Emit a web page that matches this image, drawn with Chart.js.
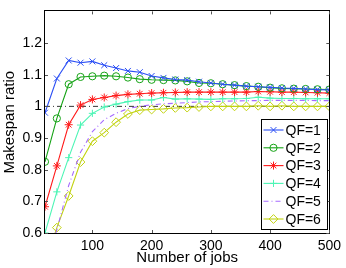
<!DOCTYPE html>
<html lang="en">
<head>
<meta charset="UTF-8">
<title>Makespan ratio vs number of jobs</title>
<style>
  html, body { margin: 0; padding: 0; background: #fff; }
  #wrap { width: 346px; height: 268px; }
</style>
<script src="https://cdn.jsdelivr.net/npm/chart.js"></script>
</head>
<body>
<div id="wrap"><canvas id="chart" width="346" height="268"></canvas></div>
<script>
// number of jobs (x) and makespan ratio per QF setting
const jobs = [20, 40, 60, 80, 100, 120, 140, 160, 180, 200, 220, 240, 260,
              280, 300, 320, 340, 360, 380, 400, 420, 440, 460, 480, 500];
const qf1 = [0.98, 1.088, 1.145, 1.138, 1.142, 1.13, 1.121, 1.112, 1.108, 1.096, 1.09, 1.085, 1.083,
             1.078, 1.074, 1.07, 1.067, 1.064, 1.062, 1.06, 1.058, 1.057, 1.055, 1.053, 1.052];
const qf2 = [0.825, 0.962, 1.07, 1.093, 1.095, 1.097, 1.095, 1.091, 1.086, 1.084, 1.083, 1.082, 1.079,
             1.074, 1.073, 1.07, 1.067, 1.064, 1.062, 1.059, 1.057, 1.056, 1.055, 1.054, 1.053];
const qf3 = [0.683, 0.812, 0.942, 1.004, 1.022, 1.028, 1.034, 1.038, 1.04, 1.042, 1.043, 1.044, 1.045,
             1.045, 1.045, 1.045, 1.045, 1.045, 1.047, 1.046, 1.045, 1.045, 1.044, 1.043, 1.042];
const qf4 = [0.6, 0.73, 0.838, 0.941, 0.978, 0.998, 1.007, 1.015, 1.02, 1.02, 1.028, 1.023, 1.024,
             1.023, 1.022, 1.024, 1.024, 1.025, 1.029, 1.026, 1.025, 1.025, 1.024, 1.024, 1.024];
const qf5 = [0.49, 0.61, 0.75, 0.855, 0.92, 0.958, 0.978, 0.993, 1.0, 1.005, 1.008, 1.01, 1.012,
             1.014, 1.015, 1.016, 1.017, 1.018, 1.018, 1.019, 1.019, 1.019, 1.019, 1.018, 1.018];
const qf6 = [0.5, 0.617, 0.717, 0.824, 0.89, 0.917, 0.95, 0.976, 0.988, 0.99, 0.992, 0.995, 0.996,
             0.998, 1.0, 1.0, 1.0, 1.0, 1.002, 1.0, 1.002, 1.0, 1.0, 1.0, 1.0];
const refLine = [1, 1];
const refJobs = [20, 500];

const seriesNames = ['QF=1', 'QF=2', 'QF=3', 'QF=4', 'QF=5', 'QF=6'];
const xTicks = [100, 200, 300, 400, 500];
const yTicks = [0.6, 0.7, 0.8, 0.9, 1, 1.1, 1.2];
const yTickLabels = ['0.6', '0.7', '0.8', '0.9', '1', '1.1', '1.2'];

const FONT = 'Liberation Sans, Arial, Helvetica, sans-serif';

const styles = [
  { color: '#2b4ff5', point: 'crossRot', radius: 4.2, dash: [] },
  { color: '#16a316', point: 'circle', radius: 3.6, dash: [] },
  { color: '#ff1a1a', point: 'star', radius: 4, dash: [] },
  { color: '#4df5b5', point: 'cross', radius: 3.6, dash: [] },
  { color: '#a66bff', point: false, radius: 0, dash: [5, 3, 1, 3] },
  { color: '#c2d312', point: 'rectRot', radius: 4.4, dash: [] }
];

const toXY = (xs, ys) => xs.map((x, i) => ({ x: x, y: ys[i] }));
const allSeries = [qf1, qf2, qf3, qf4, qf5, qf6];

const datasets = allSeries.map((s, i) => ({
  label: seriesNames[i],
  data: toXY(jobs, s),
  borderColor: styles[i].color,
  backgroundColor: 'rgba(0,0,0,0)',
  pointBorderColor: styles[i].color,
  pointBackgroundColor: 'rgba(0,0,0,0)',
  pointStyle: styles[i].point,
  pointRadius: styles[i].radius,
  pointBorderWidth: 1,
  borderWidth: 1.1,
  borderDash: styles[i].dash,
  tension: 0
}));

// black dash-dot reference line at ratio 1
datasets.unshift({
  label: 'ref',
  data: toXY(refJobs, refLine),
  borderColor: '#333',
  borderWidth: 1,
  borderDash: [5, 3, 1, 3],
  pointRadius: 0,
  order: 10
});

// box, inward ticks and legend (matlab look)
const framePlugin = {
  id: 'frame',
  afterDraw(chart) {
    const ctx = chart.ctx;
    const a = chart.chartArea;
    const xs = chart.scales.x, ys = chart.scales.y;
    const tl = 3;
    ctx.save();
    ctx.strokeStyle = '#000';
    ctx.lineWidth = 1;
    ctx.setLineDash([]);
    ctx.strokeRect(Math.round(a.left) - 0.5, Math.round(a.top) - 0.5,
                   Math.round(a.right - a.left) + 1, Math.round(a.bottom - a.top) + 1);
    ctx.strokeStyle = '#555';
    ctx.beginPath();
    xTicks.forEach(v => {
      const px = Math.round(xs.getPixelForValue(v)) + 0.5;
      ctx.moveTo(px, a.bottom); ctx.lineTo(px, a.bottom - tl);
      ctx.moveTo(px, a.top); ctx.lineTo(px, a.top + tl);
    });
    yTicks.forEach(v => {
      const py = Math.round(ys.getPixelForValue(v)) + 0.5;
      ctx.moveTo(a.left, py); ctx.lineTo(a.left + tl, py);
      ctx.moveTo(a.right, py); ctx.lineTo(a.right - tl, py);
    });
    ctx.stroke();

    // legend
    const lw = 66, lh = 110;
    const lx = Math.round(a.right) - 2 - lw + 0.5;
    const ly = Math.round(a.bottom) - 4 - lh + 0.5;
    ctx.fillStyle = '#fff';
    ctx.fillRect(lx, ly, lw, lh);
    ctx.strokeStyle = '#000';
    ctx.strokeRect(lx, ly, lw, lh);
    ctx.font = '14px ' + FONT;
    ctx.textBaseline = 'middle';
    ctx.textAlign = 'left';
    seriesNames.forEach((name, i) => {
      const st = styles[i];
      const cy = ly + 10.5 + i * 17.8;
      ctx.strokeStyle = st.color;
      ctx.lineWidth = 1.1;
      ctx.setLineDash(st.dash);
      ctx.beginPath();
      ctx.moveTo(lx + 2, cy); ctx.lineTo(lx + 22, cy);
      ctx.stroke();
      ctx.setLineDash([]);
      if (st.point) {
        ctx.lineWidth = 1;
        ctx.fillStyle = 'rgba(0,0,0,0)';
        Chart.helpers.drawPoint(ctx, { pointStyle: st.point, radius: st.radius, rotation: 0, borderWidth: 1 },
                                lx + 12, cy);
      }
      ctx.fillStyle = '#000';
      ctx.fillText(name, lx + 24, cy + 1);
    });
    ctx.restore();
  }
};

new Chart(document.getElementById('chart'), {
  type: 'line',
  data: { datasets: datasets },
  options: {
    responsive: false,
    animation: false,
    events: [],
    layout: { padding: { top: 11, right: 15, left: 0, bottom: 0 } },
    plugins: { legend: { display: false }, tooltip: { enabled: false } },
    scales: {
      x: {
        type: 'linear',
        min: 20,
        max: 500,
        afterBuildTicks: s => { s.ticks = xTicks.map(v => ({ value: v })); },
        afterFit: s => { s.height = 35; },
        grid: { display: false, drawTicks: false },
        border: { display: false },
        ticks: { padding: 5, color: '#000', font: { family: FONT, size: 14 }, maxRotation: 0 },
        title: { display: true, text: 'Number of jobs', color: '#000',
                 font: { family: FONT, size: 15 }, padding: { top: 0, bottom: 1 } }
      },
      y: {
        min: 0.6,
        max: 1.3,
        afterBuildTicks: s => { s.ticks = yTicks.map(v => ({ value: v })); },
        afterFit: s => { s.width = 45; },
        grid: { display: false, drawTicks: false },
        border: { display: false },
        ticks: { padding: 3, color: '#000', font: { family: FONT, size: 14 },
                 callback: (v, i) => yTickLabels[i] },
        title: { display: true, text: 'Makespan ratio', color: '#000',
                 font: { family: FONT, size: 15 }, padding: { top: 1, bottom: 0 } }
      }
    }
  },
  plugins: [framePlugin]
});
</script>
</body>
</html>
